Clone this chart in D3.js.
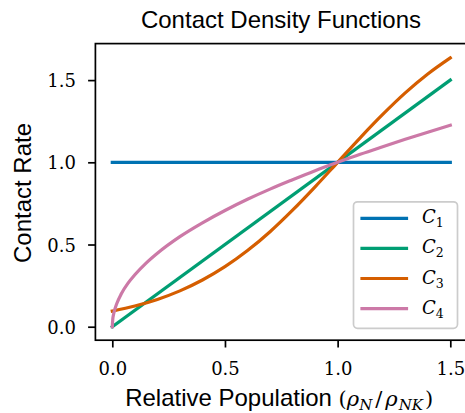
<!DOCTYPE html>
<html>
<head>
<meta charset="utf-8">
<script src="https://cdn.jsdelivr.net/npm/d3@7"></script>
<style>
  html, body { margin: 0; padding: 0; background: #fff; }
  svg { display: block; }
</style>
</head>
<body>
<svg id="chart" width="465" height="413"></svg>
<script>
// ---- data ----
const seriesNames = ["1", "2", "3", "4"];
const seriesColors = ["#0072B2", "#009E73", "#D55E00", "#CC79A7"];

const c1X = [0, 1.5];
const c1Y = [1.0, 1.0];

const c2X = [0, 1.5];
const c2Y = [0, 1.5];

const c3X = [0, 0.1, 0.2, 0.3, 0.4, 0.5, 0.6, 0.7, 0.8, 0.9, 1.0, 1.1, 1.2, 1.3, 1.4, 1.5];
const c3Y = [0.095, 0.126, 0.166, 0.218, 0.284, 0.365, 0.463, 0.578, 0.709, 0.851, 1.0, 1.149, 1.291, 1.422, 1.537, 1.635];

const c4X = [0, 0.002, 0.005, 0.01, 0.02, 0.04, 0.07, 0.1, 0.15, 0.2, 0.3, 0.4, 0.5, 0.6, 0.7, 0.8, 0.9, 1.0, 1.1, 1.2, 1.3, 1.4, 1.5];
const c4Y = [0, 0.045, 0.071, 0.100, 0.141, 0.200, 0.265, 0.316, 0.387, 0.447, 0.548, 0.632, 0.707, 0.775, 0.837, 0.894, 0.949, 1.000, 1.049, 1.095, 1.140, 1.183, 1.225];

const xTicks = [0, 0.5, 1.0, 1.5];
const yTicks = [0, 0.5, 1.0, 1.5];
const xTickLabels = ["0.0", "0.5", "1.0", "1.5"];
const yTickLabels = ["0.0", "0.5", "1.0", "1.5"];

const titleText = "Contact Density Functions";
const yLabelText = "Contact Rate";

const seriesX = [c1X, c2X, c3X, c4X];
const seriesY = [c1Y, c2Y, c3Y, c4Y];

// ---- layout ----
const svg = d3.select("#chart");
const pL = 95.4, pR = 467.2, pT = 43.6, pB = 340.2;

const x = d3.scaleLinear().domain([-0.075, 1.575]).range([pL, pR]);
const y = d3.scaleLinear().domain([-0.082, 1.722]).range([pB, pT]);

const serif = "'DejaVu Serif', serif";
const sans = "'Liberation Sans', Arial, Helvetica, sans-serif";

// clip
svg.append("defs").append("clipPath").attr("id", "clip")
  .append("rect").attr("x", pL).attr("y", pT)
  .attr("width", pR - pL).attr("height", pB - pT);

// lines
const line = d3.line().x(d => x(d[0])).y(d => y(d[1])).curve(d3.curveMonotoneX);
const plot = svg.append("g").attr("clip-path", "url(#clip)");
seriesX.forEach((xs, i) => {
  const pts = xs.map((v, j) => [v, seriesY[i][j]]);
  plot.append("path")
    .datum(pts)
    .attr("d", line)
    .attr("fill", "none")
    .attr("stroke", seriesColors[i])
    .attr("stroke-width", 3.2)
    .attr("stroke-linecap", "square")
    .attr("stroke-linejoin", "round");
});

// frame
svg.append("rect")
  .attr("x", pL).attr("y", pT)
  .attr("width", pR - pL).attr("height", pB - pT)
  .attr("fill", "none").attr("stroke", "#000").attr("stroke-width", 1.7);

// x axis
const xAxis = d3.axisBottom(x).tickValues(xTicks)
  .tickFormat((d, i) => xTickLabels[i]).tickSize(7.3).tickPadding(4);
const gx = svg.append("g").attr("transform", `translate(0,${pB})`).call(xAxis);
gx.select(".domain").remove();
gx.selectAll(".tick line").attr("stroke", "#000").attr("stroke-width", 1.7);
gx.selectAll(".tick text")
  .attr("font-family", serif).attr("font-size", 18).attr("fill", "#000")
  .attr("dy", null).attr("y", 35);

// y axis
const yAxis = d3.axisLeft(y).tickValues(yTicks)
  .tickFormat((d, i) => yTickLabels[i]).tickSize(7.3).tickPadding(4);
const gy = svg.append("g").attr("transform", `translate(${pL},0)`).call(yAxis);
gy.select(".domain").remove();
gy.selectAll(".tick line").attr("stroke", "#000").attr("stroke-width", 1.7);
gy.selectAll(".tick text")
  .attr("font-family", serif).attr("font-size", 18).attr("fill", "#000")
  .attr("dy", null).attr("x", -19.5).attr("y", 6.5);

// title
svg.append("text")
  .attr("x", 281).attr("y", 27.5)
  .attr("text-anchor", "middle")
  .attr("font-family", sans).attr("font-size", 24)
  .attr("fill", "#000")
  .text(titleText);

// y label
svg.append("text")
  .attr("transform", "translate(30.5,193) rotate(-90)")
  .attr("text-anchor", "middle")
  .attr("font-family", sans).attr("font-size", 24)
  .attr("fill", "#000")
  .text(yLabelText);

// x label with math
const xl = svg.append("text")
  .attr("x", 279.2).attr("y", 405.5)
  .attr("text-anchor", "middle")
  .attr("font-family", sans).attr("font-size", 24)
  .attr("fill", "#000");
xl.append("tspan").text("Relative Population ");
xl.append("tspan").attr("font-family", serif).attr("font-size", 21).text("(");
xl.append("tspan").attr("font-family", serif).attr("font-style", "italic").attr("font-size", 21).text("ρ");
xl.append("tspan").attr("font-family", serif).attr("font-style", "italic").attr("font-size", 15).attr("dy", 4).text("N");
xl.append("tspan").attr("font-family", serif).attr("font-size", 21).attr("dy", -4).attr("dx", 3).text("/");
xl.append("tspan").attr("font-family", serif).attr("font-style", "italic").attr("font-size", 21).attr("dx", 3).text("ρ");
xl.append("tspan").attr("font-family", serif).attr("font-style", "italic").attr("font-size", 15).attr("dy", 4).attr("dx", 1).text("NK");
xl.append("tspan").attr("font-family", serif).attr("font-size", 21).attr("dy", -4).attr("dx", 2).text(")");

// legend
const lg = svg.append("g");
lg.append("rect")
  .attr("x", 353.5).attr("y", 201.8)
  .attr("width", 104).attr("height", 126.5)
  .attr("rx", 4).attr("ry", 4)
  .attr("fill", "#fff").attr("fill-opacity", 0.8)
  .attr("stroke", "#cccccc").attr("stroke-width", 1.7);
const rowY0 = 218.3, rowStep = 30.1;
seriesNames.forEach((n, i) => {
  const ry = rowY0 + i * rowStep;
  lg.append("line")
    .attr("x1", 362).attr("x2", 406.5)
    .attr("y1", ry).attr("y2", ry)
    .attr("stroke", seriesColors[i]).attr("stroke-width", 3.2)
    .attr("stroke-linecap", "square");
  const t = lg.append("text")
    .attr("x", 422).attr("y", ry + 5)
    .attr("font-family", serif).attr("font-size", 18).attr("fill", "#000");
  t.append("tspan").attr("font-style", "italic").text("C");
  t.append("tspan").attr("font-size", 12.5).attr("dy", 4).text(n);
});
</script>
</body>
</html>
